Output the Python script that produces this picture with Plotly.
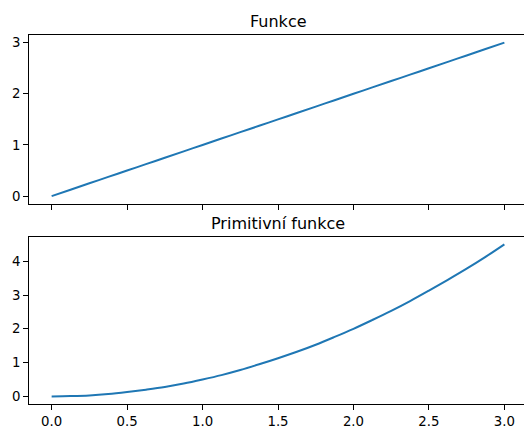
import plotly.graph_objects as go
from plotly.subplots import make_subplots

x_vals = [0.0, 0.125, 0.25, 0.375, 0.5, 0.625, 0.75, 0.875, 1.0, 1.125, 1.25, 1.375, 1.5,
          1.625, 1.75, 1.875, 2.0, 2.125, 2.25, 2.375, 2.5, 2.625, 2.75, 2.875, 3.0]
funkce = [0.0, 0.125, 0.25, 0.375, 0.5, 0.625, 0.75, 0.875, 1.0, 1.125, 1.25, 1.375, 1.5,
          1.625, 1.75, 1.875, 2.0, 2.125, 2.25, 2.375, 2.5, 2.625, 2.75, 2.875, 3.0]
primitivni = [0.0, 0.01, 0.03, 0.07, 0.13, 0.2, 0.28, 0.38, 0.5, 0.63, 0.78, 0.95, 1.13,
              1.32, 1.53, 1.76, 2.0, 2.26, 2.53, 2.82, 3.13, 3.45, 3.78, 4.13, 4.5]
titles = ["Funkce", "Primitivní funkce"]
x_ticks = [0.0, 0.5, 1.0, 1.5, 2.0, 2.5, 3.0]
x_tick_labels = ["0.0", "0.5", "1.0", "1.5", "2.0", "2.5", "3.0"]
y1_ticks = [0, 1, 2, 3]
y2_ticks = [0, 1, 2, 3, 4]

fig = make_subplots(rows=2, cols=1, shared_xaxes=True)
line = dict(color="#1f77b4", width=2)
fig.add_trace(go.Scatter(x=x_vals, y=funkce, mode="lines", line=line, line_shape="spline"), row=1, col=1)
fig.add_trace(go.Scatter(x=x_vals, y=primitivni, mode="lines", line=line, line_shape="spline"), row=2, col=1)

W, H = 524, 430
l, r, t, b = 29, 0, 35, 25.5
ph = H - t - b
font = dict(family="DejaVu Sans", size=13.3, color="black")

axis_common = dict(showgrid=False, zeroline=False, showline=True, linecolor="black", linewidth=1.1,
                   ticks="outside", ticklen=4.7, tickwidth=1.1, tickcolor="black", tickfont=font)

fig.update_layout(
    width=W, height=H, margin=dict(l=l, r=r, t=t, b=b),
    plot_bgcolor="white", paper_bgcolor="white", showlegend=False,
    xaxis=dict(**axis_common, mirror=True, range=[-0.15, 3.13], tickvals=x_ticks,
               showticklabels=False, domain=[0, 1]),
    xaxis2=dict(**axis_common, mirror=True, range=[-0.15, 3.13], tickvals=x_ticks,
                ticktext=x_tick_labels, domain=[0, 1]),
    yaxis=dict(**axis_common, range=[-0.15, 3.15], tickvals=y1_ticks,
               domain=[(H - 204 - b) / ph, 1.0]),
    yaxis2=dict(**axis_common, range=[-0.225, 4.725], tickvals=y2_ticks,
                domain=[0, (H - 237 - b) / ph]),
)

cx = (278 - l) / (W - l - r)
for i, (txt, yref) in enumerate(zip(titles, ["y domain", "y2 domain"])):
    fig.add_annotation(text=txt, xref="paper", x=cx, yref=yref, y=1, yanchor="middle",
                       yshift=13.5, showarrow=False,
                       font=dict(family="DejaVu Sans", size=16, color="black"))

fig.write_html("out.html")
